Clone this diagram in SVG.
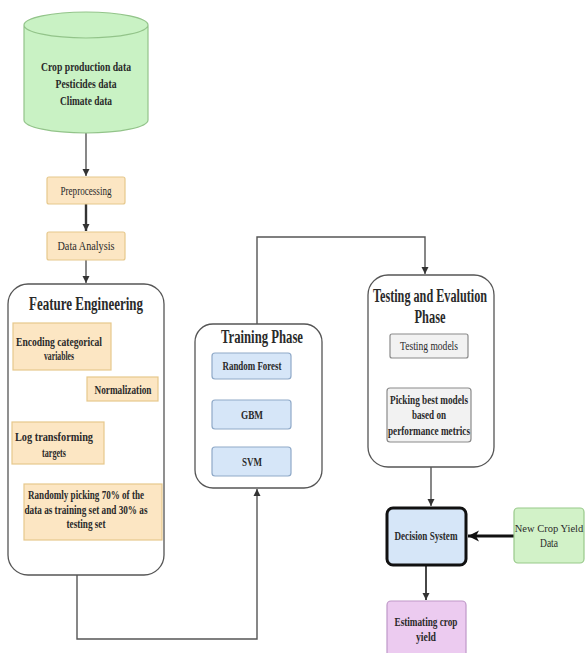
<svg xmlns="http://www.w3.org/2000/svg" width="588" height="653" viewBox="0 0 588 653">
<style>
text{font-family:"Liberation Serif","Times New Roman",serif;fill:#2a2a2a;text-anchor:middle;}
.b{font-weight:bold;}
.t{font-size:13px;}
.h{font-size:18px;font-weight:bold;}
.or{fill:#fce6c3;stroke:#e6c88c;stroke-width:1.2;}
.bl{fill:#d6e6f8;stroke:#8fa9c8;stroke-width:1.2;}
.gr{fill:#d2f2c8;stroke:#98c98a;stroke-width:1.2;}
.pu{fill:#eccbf0;stroke:#bf98c8;stroke-width:1.2;}
.cont{fill:#fff;stroke:#555;stroke-width:1.3;}
.gb{fill:#f2f2f2;stroke:#8a8a8a;stroke-width:1.2;}
.c{fill:none;stroke:#555;stroke-width:1.4;}
</style>
<defs>
<marker id="a" markerUnits="userSpaceOnUse" markerWidth="8" markerHeight="8" refX="7" refY="4" orient="auto"><path d="M0,0.5 L7,4 L0,7.5 Z" fill="#333"/></marker>
<marker id="ab" markerUnits="userSpaceOnUse" markerWidth="12" markerHeight="12" refX="11" refY="6" orient="auto"><path d="M0,0.5 L11,6 L0,11.5 L3,6 Z" fill="#111"/></marker>
</defs>
<rect width="588" height="653" fill="#fff"/>
<g id="connectors">
<path class="c" d="M86,133 V176" marker-end="url(#a)"/>
<path class="c" d="M86,204 V231" style="stroke-width:2.4;stroke:#333" marker-end="url(#a)"/>
<path class="c" d="M86,260 V283" marker-end="url(#a)"/>
<path class="c" d="M77,575 V639 H257 V489" marker-end="url(#a)"/>
<path class="c" d="M257,324 V237 H425 V274" marker-end="url(#a)"/>
<path class="c" d="M429,358 V387" marker-end="url(#a)"/>
<path class="c" d="M431,467 V506" marker-end="url(#a)"/>
<path class="c" d="M514,536 H468" style="stroke:#111;stroke-width:3" marker-end="url(#ab)"/>
<path class="c" d="M426,566 V600" style="stroke:#333;stroke-width:1.8" marker-end="url(#a)"/>
</g>
<g id="data-sources">
<path d="M24,25 V120 A62,13 0 0 0 148,120 V25 A62,13 0 0 0 24,25 A62,13 0 0 0 148,25" fill="#c9f2c4" stroke="#93c48a" stroke-width="1.2"/>
<text class="t b" x="86" y="71" textLength="90" lengthAdjust="spacingAndGlyphs">Crop production data</text>
<text class="t b" x="86" y="88" textLength="61" lengthAdjust="spacingAndGlyphs">Pesticides data</text>
<text class="t b" x="86" y="105" textLength="52" lengthAdjust="spacingAndGlyphs">Climate data</text>
</g>
<g id="preprocessing">
<rect class="or" x="47" y="177" width="78" height="27" rx="2"/>
<text class="t" x="86" y="195" textLength="51" lengthAdjust="spacingAndGlyphs">Preprocessing</text>
</g>
<g id="data-analysis">
<rect class="or" x="47" y="232" width="78" height="28" rx="2"/>
<text class="t" x="86" y="250" textLength="57" lengthAdjust="spacingAndGlyphs">Data Analysis</text>
</g>
<g id="feature-engineering">
<rect class="cont" x="8" y="284" width="156" height="291" rx="20"/>
<text class="h" x="86" y="310" textLength="114" lengthAdjust="spacingAndGlyphs">Feature Engineering</text>
<rect class="or" x="13" y="323" width="98" height="47"/>
<text class="t b" x="59" y="346" textLength="86" lengthAdjust="spacingAndGlyphs">Encoding categorical</text>
<text class="t b" x="59" y="360" textLength="30" lengthAdjust="spacingAndGlyphs">variables</text>
<rect class="or" x="87" y="377" width="71" height="24"/>
<text class="t b" x="123" y="394" textLength="57" lengthAdjust="spacingAndGlyphs">Normalization</text>
<rect class="or" x="12" y="422" width="92" height="42"/>
<text class="t b" x="54" y="441" textLength="78" lengthAdjust="spacingAndGlyphs">Log transforming</text>
<text class="t b" x="54" y="457" textLength="24" lengthAdjust="spacingAndGlyphs">targets</text>
<rect class="or" x="24" y="484" width="138" height="56"/>
<text class="t b" x="86" y="499" textLength="116" lengthAdjust="spacingAndGlyphs">Randomly picking 70% of the</text>
<text class="t b" x="86" y="514" textLength="123" lengthAdjust="spacingAndGlyphs">data as training set and 30% as</text>
<text class="t b" x="86" y="528" textLength="39" lengthAdjust="spacingAndGlyphs">testing set</text>
</g>
<g id="training-phase">
<rect class="cont" x="195" y="324" width="127" height="164" rx="18"/>
<text class="h" x="262" y="343" textLength="82" lengthAdjust="spacingAndGlyphs">Training Phase</text>
<rect class="bl" x="212" y="353" width="79" height="26" rx="3"/>
<text class="t b" x="252" y="370" textLength="59" lengthAdjust="spacingAndGlyphs">Random Forest</text>
<rect class="bl" x="212" y="400" width="79" height="29" rx="3"/>
<text class="t b" x="252" y="419" textLength="22" lengthAdjust="spacingAndGlyphs">GBM</text>
<rect class="bl" x="212" y="447" width="79" height="29" rx="3"/>
<text class="t b" x="252" y="466" textLength="20" lengthAdjust="spacingAndGlyphs">SVM</text>
</g>
<g id="testing-phase">
<rect class="cont" x="368" y="275" width="126" height="192" rx="20"/>
<text class="h" x="430" y="302" textLength="114" lengthAdjust="spacingAndGlyphs">Testing and Evalution</text>
<text class="h" x="430" y="323" textLength="31" lengthAdjust="spacingAndGlyphs">Phase</text>
<rect class="gb" x="390" y="334" width="78" height="24" rx="2"/>
<text class="t" x="429" y="350" textLength="58" lengthAdjust="spacingAndGlyphs">Testing models</text>
<rect class="gb" x="387" y="388" width="84" height="54" rx="3"/>
<text class="t b" x="429" y="404" textLength="78" lengthAdjust="spacingAndGlyphs">Picking best models</text>
<text class="t b" x="429" y="419" textLength="34" lengthAdjust="spacingAndGlyphs">based on</text>
<text class="t b" x="429" y="435" textLength="82" lengthAdjust="spacingAndGlyphs">performance metrics</text>
</g>
<g id="decision-system">
<rect x="387" y="508" width="79" height="57" rx="6" fill="#d6e6f8" stroke="#111" stroke-width="3"/>
<text class="t b" x="426" y="540" textLength="63" lengthAdjust="spacingAndGlyphs">Decision System</text>
</g>
<g id="new-data">
<rect class="gr" x="514" y="508" width="70" height="55" rx="4"/>
<text x="549" y="532" style="font-size:10.5px">New Crop Yield</text>
<text x="549" y="547" style="font-size:12px" textLength="18" lengthAdjust="spacingAndGlyphs">Data</text>
</g>
<g id="estimating">
<rect class="pu" x="387" y="601" width="79" height="56" rx="4"/>
<text class="t b" x="426" y="626" textLength="63" lengthAdjust="spacingAndGlyphs">Estimating crop</text>
<text class="t b" x="426" y="641" textLength="20" lengthAdjust="spacingAndGlyphs">yield</text>
</g>
</svg>
